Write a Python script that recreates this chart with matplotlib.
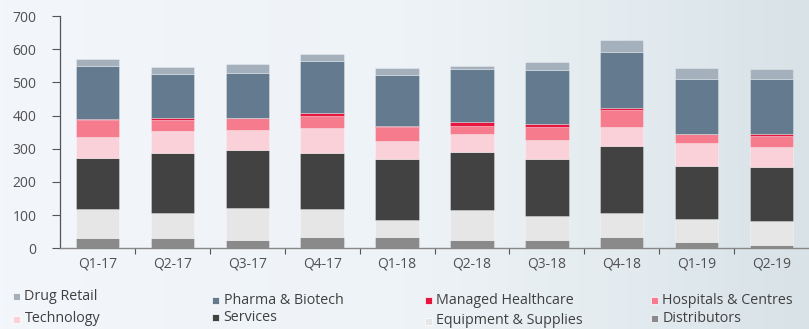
import numpy as np
import matplotlib
matplotlib.use("Agg")
import matplotlib.pyplot as plt
from matplotlib.colors import LinearSegmentedColormap
from matplotlib.patches import Rectangle

plt.rcParams['font.family'] = ['Open Sans', 'DejaVu Sans']

quarters = ["Q1-17", "Q2-17", "Q3-17", "Q4-17", "Q1-18",
            "Q2-18", "Q3-18", "Q4-18", "Q1-19", "Q2-19"]

# stacked from bottom to top
distributors = [30, 30, 26, 34, 34, 26, 26, 34, 19, 9]
equipment    = [88, 76, 94, 83, 50, 88, 70, 72, 69, 72]
services     = [154, 180, 177, 169, 184, 176, 172, 202, 159, 163]
technology   = [62, 66, 59, 76, 55, 54, 58, 57, 69, 61]
hospitals    = [54, 36, 36, 36, 43, 26, 40, 51, 28, 33]
managed      = [3, 6, 2, 10, 3, 10, 10, 7, 0, 6]
pharma       = [158, 130, 133, 156, 154, 160, 161, 168, 166, 166]
drug_retail  = [22, 22, 27, 21, 19, 9, 25, 38, 32, 29]

series = [
    ("Distributors", distributors, "#8a8a8a"),
    ("Equipment & Supplies", equipment, "#e6e6e6"),
    ("Services", services, "#424242"),
    ("Technology", technology, "#fad1d8"),
    ("Hospitals & Centres", hospitals, "#f57b8d"),
    ("Managed Healthcare", managed, "#e8163f"),
    ("Pharma & Biotech", pharma, "#647a8f"),
    ("Drug Retail", drug_retail, "#a4b0bc"),
]
colors = {name: c for name, _, c in series}

W, H = 809, 329
fig = plt.figure(figsize=(W / 100, H / 100), dpi=100)

# soft horizontal background gradient
bg = fig.add_axes([0, 0, 1, 1], zorder=-10)
cmap = LinearSegmentedColormap.from_list(
    "bg", [(0, "#f3f6fb"), (0.5, "#eef3f7"), (0.75, "#e4ecf0"), (1, "#d8e2e7")])
grad = np.linspace(0, 1, 256)[None, :]
bg.imshow(grad, aspect="auto", cmap=cmap, extent=[0, 1, 0, 1])
bg.set_axis_off()

ax = fig.add_axes([60 / W, (H - 248.3) / H, (W - 60) / W, (248.3 - 16) / H])
ax.set_facecolor("none")

x = np.arange(len(quarters))
bottom = np.zeros(len(quarters))
for name, vals, col in series:
    v = np.array(vals, dtype=float)
    ax.bar(x, v, bottom=bottom, width=0.58, color=col,
           edgecolor=(1, 1, 1, 0.35), linewidth=0.6, zorder=3)
    bottom += v

ax.set_xlim(-0.5, len(quarters) - 0.5)
ax.set_ylim(0, 700)
ax.set_yticks(range(0, 701, 100))
ax.tick_params(axis="y", labelsize=10, colors="#555555", length=6, width=0.8,
               labelcolor="#505050", pad=11)
ax.set_xticks(x)
ax.set_xticklabels(quarters)
ax.set_xticks(np.arange(0.5, len(quarters) - 0.5), minor=True)
ax.tick_params(axis="x", which="major", length=0, labelsize=10,
               labelcolor="#505050", pad=6)
ax.tick_params(axis="x", which="minor", length=4, width=0.8, color="#555555")

for s in ["top", "right"]:
    ax.spines[s].set_visible(False)
ax.spines["left"].set_color("#555555")
ax.spines["bottom"].set_color("#888888")
ax.spines["left"].set_linewidth(0.9)
ax.spines["bottom"].set_linewidth(1.0)

# legend laid out in four columns
legend_items = [
    ("Drug Retail", 13, 296.5), ("Technology", 13, 319),
    ("Pharma & Biotech", 212, 300), ("Services", 212, 317.5),
    ("Managed Healthcare", 425, 300), ("Equipment & Supplies", 425, 321),
    ("Hospitals & Centres", 651, 300), ("Distributors", 651, 318),
]
for name, px, py in legend_items:
    fig.patches.append(Rectangle(((px) / W, (H - py - 3.5) / H), 7 / W, 7 / H,
                                 transform=fig.transFigure, facecolor=colors[name],
                                 edgecolor="white", linewidth=0.5))
    fig.text((px + 11.5) / W, (H - py) / H, name, fontsize=10.3, color="#404040",
             va="center", ha="left")

fig.savefig("out.png", dpi=100)
